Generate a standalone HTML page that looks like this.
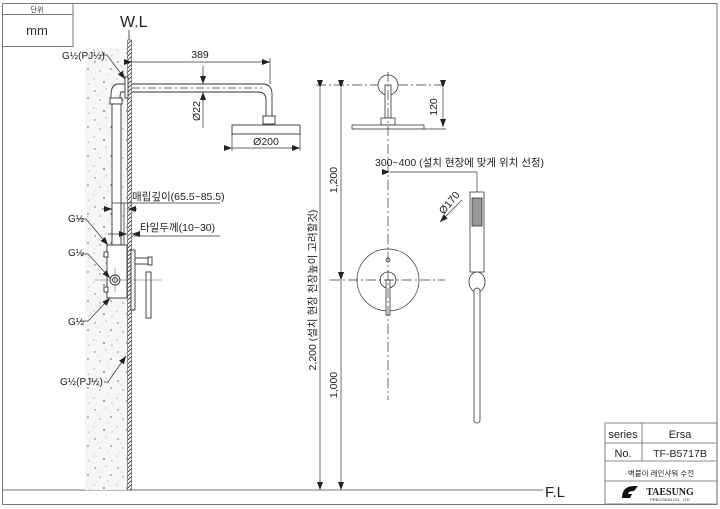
<!DOCTYPE html>
<html><head><meta charset="utf-8"><style>
html,body{margin:0;padding:0;background:#fff;}
svg{display:block;font-family:"Liberation Sans","Noto Sans CJK KR",sans-serif;}
</style></head><body>
<svg width="720" height="509" viewBox="0 0 720 509" xmlns="http://www.w3.org/2000/svg">
<defs>
<pattern id="hat" width="4" height="4" patternUnits="userSpaceOnUse"><rect width="4" height="4" fill="#fff"/><path d="M0 4L4 0" stroke="#333" stroke-width="0.8"/></pattern>
<pattern id="conc" width="23" height="29" patternUnits="userSpaceOnUse">
<rect width="23" height="29" fill="#f6f6f6"/>
<g fill="#666">
<circle cx="3" cy="4" r="0.7"/><circle cx="14" cy="2" r="0.5"/><circle cx="19" cy="11" r="0.8"/>
<circle cx="8" cy="13" r="0.6"/><circle cx="2" cy="21" r="0.5"/><circle cx="12" cy="24" r="0.9"/>
<circle cx="20" cy="26" r="0.5"/><circle cx="16" cy="17" r="0.4"/><circle cx="6" cy="8" r="0.4"/>
</g>
<g fill="#bbb"><circle cx="10" cy="6" r="0.4"/><circle cx="4" cy="17" r="0.4"/><circle cx="18" cy="21" r="0.4"/><circle cx="21" cy="5" r="0.4"/></g>
</pattern>
<marker id="ar" markerWidth="8" markerHeight="6" refX="8" refY="3" orient="auto" markerUnits="userSpaceOnUse"><path d="M0 0L8 3L0 6z" fill="#222"/></marker>
</defs>
<g fill="none" stroke="#777" stroke-width="1">
<rect x="2.5" y="3.5" width="714.5" height="501"/>
<line x1="2" y1="490" x2="543" y2="490"/>
<rect x="2.5" y="3.5" width="70.5" height="43"/><line x1="2" y1="14.5" x2="73" y2="14.5"/>
</g>
<text x="37" y="12" font-size="7" text-anchor="middle" fill="#333">단위</text>
<text x="37" y="35" font-size="13" text-anchor="middle" fill="#333">mm</text>
<text x="120" y="27" font-size="16" fill="#222">W.L</text>
<line x1="129" y1="30" x2="129" y2="40" stroke="#555"/>
<rect x="85" y="48" width="42" height="442" fill="url(#conc)"/>
<rect x="127.5" y="40" width="4" height="450" fill="url(#hat)" stroke="#444" stroke-width="0.6"/>
<g fill="#fff" stroke="#333" stroke-width="0.9">
<path d="M132 84 H262 Q272 84 272 94 V116 M132 92 H258 Q266 92 266 100 V116"/>
<rect x="263" y="116" width="12" height="8"/>
<rect x="232" y="125" width="68" height="9"/>
<rect x="125" y="77" width="3" height="21"/>
<path d="M125 84 H118 Q111 84 111 96 V100 M125 92 H121 Q120 93 120 100"/>
<rect x="110" y="98" width="12" height="6"/>
<rect x="112" y="104" width="9" height="141"/>
<rect x="107" y="245" width="20" height="53"/>
<rect x="104" y="252" width="4" height="5"/><rect x="104" y="287" width="4" height="5"/>
<circle cx="115" cy="280" r="5"/><circle cx="115" cy="280" r="2.5"/>
<rect x="131" y="250" width="4" height="60"/>
<rect x="135" y="258" width="13" height="6"/><rect x="148" y="257" width="4" height="8"/>
<rect x="146" y="272" width="5" height="46"/>
</g>
<line x1="95" y1="280" x2="162" y2="280" stroke="#666" stroke-width="0.6"/>
<line x1="115" y1="268" x2="115" y2="292" stroke="#666" stroke-width="0.6"/>
<g stroke="#333" stroke-width="0.7" fill="none">
<line x1="132" y1="62" x2="270" y2="62" marker-start="url(#ar)" marker-end="url(#ar)"/>
<line x1="270" y1="58" x2="270" y2="84"/>
<line x1="132" y1="88" x2="262" y2="88" stroke-dasharray="8 3 2 3"/>
<line x1="203" y1="66" x2="203" y2="84" marker-end="url(#ar)"/>
<line x1="203" y1="128" x2="203" y2="92" marker-end="url(#ar)"/>
<line x1="232" y1="148" x2="300" y2="148" marker-start="url(#ar)" marker-end="url(#ar)"/>
<line x1="232" y1="134" x2="232" y2="151"/><line x1="300" y1="134" x2="300" y2="151"/>
<line x1="112" y1="203" x2="220" y2="203"/>
<line x1="102" y1="209" x2="112" y2="209" marker-end="url(#ar)"/>
<line x1="137" y1="209" x2="128" y2="209" marker-end="url(#ar)"/>
<line x1="108" y1="234" x2="127" y2="234" marker-end="url(#ar)"/>
<line x1="140" y1="234" x2="132" y2="234" marker-end="url(#ar)"/>
<line x1="132" y1="236" x2="220" y2="236"/>
<line x1="124" y1="203" x2="124" y2="245"/>
<path d="M100 55 H107 L125 79" marker-end="url(#ar)"/>
<path d="M80 254 H88 L110 278" marker-end="url(#ar)"/>
<path d="M80 321 H88 L110 298" marker-end="url(#ar)"/>
<path d="M104 382 H108 L126 356" marker-end="url(#ar)"/>
<path d="M78 219 H86 L108 245" marker-end="url(#ar)"/>
</g>
<g fill="#222" font-size="10.5">
<text x="200" y="58" text-anchor="middle">389</text>
<text x="200" y="111" transform="rotate(-90 200 111)" text-anchor="middle">Ø22</text>
<text x="266" y="145" text-anchor="middle">Ø200</text>
<text x="132" y="200">매립깊이(65.5~85.5)</text>
<text x="140" y="231">타일두께(10~30)</text>
<text x="62" y="59" font-size="10">G½(PJ½)</text>
<text x="68" y="256" font-size="10">G½</text>
<text x="68" y="325" font-size="10">G½</text>
<text x="60" y="385" font-size="10">G½(PJ½)</text>
<text x="68" y="222" font-size="10">G½</text>
</g>
<g stroke="#333" stroke-width="0.8" fill="#fff">
<circle cx="388" cy="85" r="10"/>
<rect x="385" y="85" width="6" height="33"/>
<rect x="381" y="118" width="14" height="7"/>
<rect x="352" y="125" width="72" height="4"/>
<circle cx="388" cy="280" r="31" fill="none" stroke-width="0.7"/>
<circle cx="388" cy="260" r="2"/>
<circle cx="388" cy="280" r="8"/>
<rect x="386" y="280" width="4" height="35"/>
<rect x="470" y="192" width="14" height="80"/>
<rect x="472" y="198" width="10" height="28" fill="#999"/>
<ellipse cx="477" cy="282" rx="8" ry="10" fill="none"/>
<rect x="474" y="288" width="6" height="135" rx="3"/>
</g>
<g stroke="#333" stroke-width="0.7" fill="none">
<line x1="388" y1="72" x2="388" y2="400" stroke-dasharray="10 3 2 3"/>
<line x1="330" y1="280" x2="445" y2="280" stroke-dasharray="10 3 2 3"/>
<line x1="316" y1="85" x2="378" y2="85" stroke-dasharray="10 3 2 3"/>
<line x1="398" y1="85" x2="446" y2="85" stroke-dasharray="10 3 2 3"/>
<line x1="320" y1="88" x2="320" y2="490" marker-start="url(#ar)" marker-end="url(#ar)"/>
<line x1="341" y1="88" x2="341" y2="280" marker-start="url(#ar)" marker-end="url(#ar)"/>
<line x1="341" y1="280" x2="341" y2="490" marker-start="url(#ar)" marker-end="url(#ar)"/>
<line x1="443" y1="88" x2="443" y2="127" marker-start="url(#ar)" marker-end="url(#ar)"/>
<line x1="424" y1="129" x2="446" y2="129"/>
<line x1="390" y1="172" x2="477" y2="172" marker-start="url(#ar)"/>
<line x1="477" y1="172" x2="477" y2="192"/>
<line x1="462" y1="200" x2="440" y2="222" marker-end="url(#ar)"/>
</g>
<g fill="#222" font-size="10.5">
<text x="437" y="107" transform="rotate(-90 437 107)" text-anchor="middle">120</text>
<text x="337" y="180" transform="rotate(-90 337 180)" text-anchor="middle">1,200</text>
<text x="337" y="385" transform="rotate(-90 337 385)" text-anchor="middle">1,000</text>
<text x="316" y="290" transform="rotate(-90 316 290)" text-anchor="middle">2,200 (설치 현장 천장높이 고려할것)</text>
<text x="375" y="166">300~400 (설치 현장에 맞게 위치 선정)</text>
<text x="452" y="205" transform="rotate(-50 452 205)" text-anchor="middle">Ø170</text>
<text x="545" y="497" font-size="15">F.L</text>
</g>
<g stroke="#666" stroke-width="0.8" fill="none">
<rect x="605" y="423" width="112" height="81"/>
<line x1="605" y1="443" x2="717" y2="443"/>
<line x1="605" y1="461" x2="717" y2="461"/>
<line x1="605" y1="481" x2="717" y2="481"/>
<line x1="642" y1="423" x2="642" y2="461"/>
</g>
<g fill="#222" text-anchor="middle">
<text x="623" y="438" font-size="11">series</text>
<text x="680" y="438" font-size="11">Ersa</text>
<text x="623" y="457" font-size="11">No.</text>
<text x="680" y="457" font-size="10.5">TF-B5717B</text>
<text x="661" y="476" font-size="7.5">벽붙이 레인샤워 수전</text>
<text x="670" y="495" font-size="10" font-weight="bold" font-family="Liberation Serif,serif">TAESUNG</text>
<text x="670" y="501" font-size="4">PRECISION CO., LTD</text>
</g>
<path d="M622 498 Q622 486 634 486 L638 486 L634 491 Q628 491 628 494 L632 494 L630 498 Z" fill="#111"/>
</svg>
</body></html>
